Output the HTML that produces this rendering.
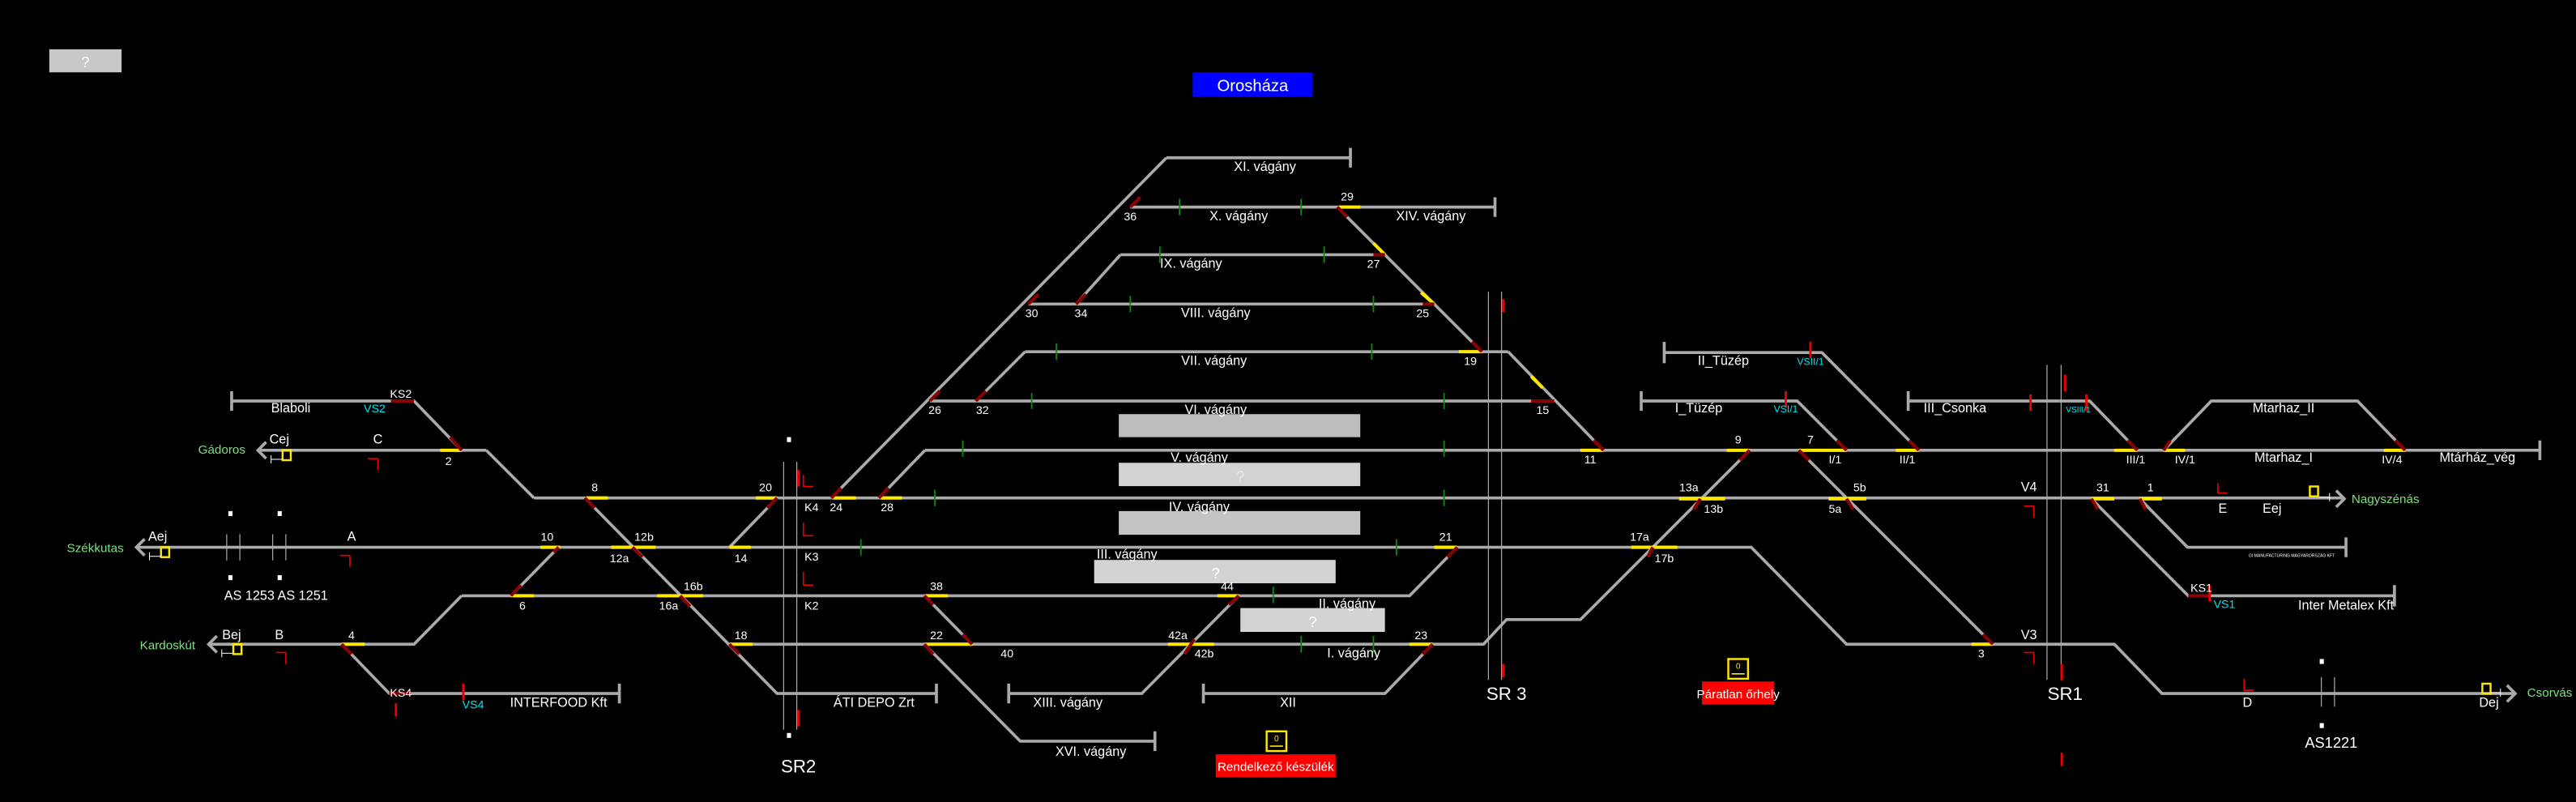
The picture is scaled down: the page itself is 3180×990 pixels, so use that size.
<!DOCTYPE html>
<html><head><meta charset="utf-8"><style>
html,body{margin:0;padding:0;background:#000;}
svg{display:block}
text{font-family:"Liberation Sans",sans-serif;}
.t{fill:#fff;font-size:8px;}
.n{fill:#fff;font-size:7px;font-family:"Liberation Mono",monospace;}
.g{fill:#7ee07e;font-size:7.5px;}
.c{fill:#00e5ee;font-size:7px;}
</style></head><body>
<svg width="3180" height="990" viewBox="0 0 1568 488" preserveAspectRatio="none">
<rect width="1568" height="488" fill="#000"/>
<rect x="30" y="30" width="44" height="14" fill="#c8c8c8"/><text x="52" y="41" font-size="9" fill="#fff" text-anchor="middle">?</text>
<rect x="726" y="44" width="73" height="15" fill="#0000ff"/><text x="762.5" y="55.5" font-size="10" fill="#fff" text-anchor="middle">Orosháza</text>

<g stroke="#aaa" stroke-width="1.8" fill="none">
<path d="M710,96 H822 M822,90 V102"/>
<path d="M506,303 L710,96"/>
<path d="M688,126 H910 M910,120 V132"/>
<path d="M682,155 H843 M655,185 L682,155"/>
<path d="M626,185 H873"/>
<path d="M624,214 H918 M594,244 L624,214"/>
<path d="M566,244 H946"/>
<path d="M814,126 L902,214 M918,214 L976,274"/>
<path d="M563,274 H1546 M1546,268 V280 M535,303 L563,274"/>
<path d="M325,303 H1427 M296,274 L325,303 M157,274 H296"/>
<path d="M141,244 H252 L281,274 M141,238 V250"/>
<path d="M83,333 H1066 L1124,392 H1287 L1316,422 H1531"/>
<path d="M356,303 L473,422 H570 M570,416 V428"/>
<path d="M473,303 L444,333 M340,333 L311,362.5"/>
<path d="M281,362.5 H858 L887,333"/>
<path d="M127,392 H252 L281,362.5"/>
<path d="M208,392 L237,422 H377 M377,416 V428"/>
<path d="M444,392 H903 L917,377 H962 L1065,274"/>
<path d="M562.7,362.5 L591.7,392 M562.7,392 L621,451 H703 M703,445 V457"/>
<path d="M754,362.5 L695,422 H614 M614,416 V428"/>
<path d="M872,392 L843,422 H732.5 M732.5,416 V428"/>
<path d="M1013,214.5 H1109 L1168,274 M1013,208 V221"/>
<path d="M999,244 H1094 L1124,274 M999,238 V250"/>
<path d="M1095,274 L1213,392"/>
<path d="M1161.5,244 H1272 L1301,274 M1161.5,238 V250"/>
<path d="M1317,274 L1346,244 H1435 L1464,274"/>
<path d="M1273,303.5 L1332,362.5 H1457.5 M1457.5,356 V369"/>
<path d="M1302.5,303.5 L1331.5,333 H1428 M1428,327 V339"/>
<path d="M162,269 L157,274 L162,279 M88,328 L83,333 L88,338 M132,387 L127,392 L132,397 M1422,298.5 L1427,303.5 L1422,308.5 M1526,417 L1531,422 L1526,427"/>
</g>
<g stroke="#aaa" stroke-width="0.6">
<path d="M477,281 V444 M485,281 V444 M906,177.5 V413.7 M914,177.5 V413.7 M1246,222 V413.7 M1254.6,222 V413.7"/>
<path d="M138,325 V341 M146,325 V341 M166,325 V341 M174,325 V341 M1413,412 V430 M1421,412 V430"/>
</g>
<g stroke="#ffe800" stroke-width="2">
<path d="M268,274 H281 M357,303 H370 M460,303 H473 M507,303 H521 M536,303 H549 M329,333 H341 M372,333 H399 M444,333 H457 M311,362.5 H325 M400,362.5 H428 M563,362.5 H577 M741,362.5 H754 M208,392 H222 M444,392 H458 M563,392 H592 M711,392 H739 M858,392 H872 M815,126 H828 M888,214 H902 M962,274 H976 M1051,274 H1065 M1095,274 H1124 M1154,274 H1168 M1287,274 H1301 M1317,274 H1330 M1451,274 H1464 M1022,303.5 H1050 M1113,303.5 H1136 M1273,303.5 H1287 M1302.5,303.5 H1316 M993,333 H1021 M873,333 H887 M1200,392 H1213"/>
<path d="M836,148 L843,155 M865,178 L873,185 M932,229 L939,236"/>
</g>
<g stroke="#8b0000" stroke-width="2">
<path d="M238,244 H252 M274,266 L281,274 M356,303 L362,309 M467,309 L473,303 M506,303 L512,297 M535,303 L541,297 M385,333 L391,339 M337,336 L340,333 M311,362.5 L317,356 M414,362.5 L420,369 M444,392 L450,398 M562.7,362.5 L568,368 M586,386 L591.7,392 M562.7,392 L568,398 M748,368 L754,362.5 M721,398 L727,389 M866,398 L872,392 M881,339 L887,333 M208,392 L214,398 M237,422 H250 M566,244 L572,238 M594,244 L600,238 M626,185 L632,179 M655,185 L661,179 M688,126 L694,120 M814,126 L820,132 M836,155 H843 M866,185 H873 M896,208 L902,214 M932,244 H946 M970,268 L976,274 M1059,280 L1065,274 M1095,274 L1101,280 M1118,268 L1124,274 M1162,268 L1168,274 M1035,303.5 L1031,310 M1124,303.5 L1128,310 M1006,333 L1003,339 M1207,386 L1213,392 M1295,268 L1301,274 M1317,274 L1321,268 M1458,268 L1464,274 M1273,303.5 L1277,310 M1302.5,303.5 L1306,310 M1332,362.5 H1345"/>
</g>
<g stroke="#0a8a0a" stroke-width="0.9">
<path d="M718,121 V131 M792,121 V131 M706,150 V160 M806,150 V160 M688,180 V190 M836,180 V190 M643,209 V219 M835,209 V219 M628,239 V249 M879,239 V249 M586,268 V278 M879,268 V278 M569,298 V308 M879,298 V308 M524,328 V338 M850,328 V338 M775,357 V367 M792,387 V397 M836,387 V397"/>
</g>
<rect x="681" y="252" width="147" height="14" fill="#bdbdbd"/>
<rect x="681" y="281.6" width="147" height="14.2" fill="#d3d3d3"/><text x="755" y="293" font-size="9" fill="#e8e8e8" text-anchor="middle">?</text>
<rect x="681" y="311" width="147" height="14.4" fill="#c4c4c4"/>
<rect x="666" y="340.7" width="147" height="14.2" fill="#d3d3d3"/><text x="740" y="352" font-size="9" fill="#fff" text-anchor="middle">?</text>
<rect x="755" y="370" width="88" height="14.5" fill="#d3d3d3"/><text x="799" y="381.5" font-size="9" fill="#fff" text-anchor="middle">?</text>
<g stroke="#ffe800" stroke-width="1.2" fill="none">
<rect x="172" y="274" width="5" height="6"/><rect x="98" y="333" width="5" height="6"/><rect x="142" y="392" width="5" height="6"/><rect x="1406" y="296" width="5" height="6"/><rect x="1511" y="416" width="5" height="6"/>
<rect x="1052" y="401" width="12" height="12"/><rect x="771" y="445" width="12" height="12"/>
</g>
<g stroke="#fff" stroke-width="0.5"><path d="M165,277 V282 M165,279.5 H172 M91,336 V341 M91,338.5 H98 M135,395 V400 M135,397.5 H142 M1418,300 V305 M1411,302.5 H1418 M1522,419 V424 M1516,421.5 H1522"/></g>
<g stroke="#e00" stroke-width="0.8" fill="none">
<path d="M230,279 V286 M224,279 H230 M213,338 V345 M207,338 H213 M174,397 V404 M168,397 H174 M489,289 V296 H495 M489,318 V326 H495 M489,348 V356 H495 M1238,308 V315 M1232,308 H1238 M1238,397 V404 M1232,397 H1238 M1350,294 V300 H1356 M1366,413 V420 H1372"/>
</g>
<g stroke="#e00" stroke-width="1.4"><path d="M486,286 V296 M486,432 V442 M915,182 V190 M915,404 V412 M1255,458 V466 M1255,404 V414 M1257,228 V238 M1270,240 V250 M1236,240 V250 M1087,238 V248 M1102,208 V218 M241,428 V436 M282,416 V426 M1345,356 V366"/></g>
<g fill="#fff"><rect x="479" y="266" width="2.5" height="3"/><rect x="479" y="446" width="2.5" height="3"/><rect x="139" y="311" width="2.5" height="3"/><rect x="169" y="311" width="2.5" height="3"/><rect x="139" y="350" width="2.5" height="3"/><rect x="169" y="350" width="2.5" height="3"/><rect x="1412" y="401" width="2.5" height="3"/><rect x="1412" y="440" width="2.5" height="3"/></g>
<rect x="1036" y="414.7" width="44" height="14" fill="#ff0000"/><text x="1058" y="424.8" font-size="7.5" fill="#fff" text-anchor="middle">Páratlan őrhely</text>
<rect x="740" y="459" width="73" height="14" fill="#ff0000"/><text x="776.5" y="469" font-size="7.5" fill="#fff" text-anchor="middle">Rendelkező készülék</text>
<g class="t" text-anchor="middle">
<text x="770" y="104">XI. vágány</text><text x="754" y="134">X. vágány</text><text x="871" y="134">XIV. vágány</text>
<text x="725" y="163">IX. vágány</text><text x="740" y="193">VIII. vágány</text><text x="739" y="222">VII. vágány</text>
<text x="740" y="252">VI. vágány</text><text x="730" y="281">V. vágány</text><text x="730" y="311">IV. vágány</text>
<text x="686" y="340">III. vágány</text><text x="820" y="370">II. vágány</text><text x="824" y="400">I. vágány</text>
<text x="650" y="430">XIII. vágány</text><text x="784" y="430">XII</text><text x="664" y="460">XVI. vágány</text>
<text x="532" y="430">ÁTI DEPO Zrt</text><text x="340" y="430">INTERFOOD Kft</text><text x="177" y="251">Blaboli</text>
<text x="170" y="270">Cej</text><text x="230" y="270">C</text><text x="96" y="329">Aej</text><text x="214" y="329">A</text>
<text x="168" y="365">AS 1253 AS 1251</text><text x="141" y="389">Bej</text><text x="170" y="389">B</text>
<text x="1049" y="222">II_Tüzép</text><text x="1034" y="251">I_Tüzép</text><text x="1190" y="251">III_Csonka</text>
<text x="1390" y="251">Mtarhaz_II</text><text x="1390" y="281">Mtarhaz_I</text><text x="1508" y="281">Mtárház_vég</text>
<text x="1235" y="299">V4</text><text x="1353" y="312">E</text><text x="1383" y="312">Eej</text>
<text x="1235" y="389">V3</text><text x="1428" y="371">Inter Metalex Kft</text><text x="1368" y="430">D</text><text x="1515" y="430">Dej</text>
<text x="1419" y="455" font-size="9">AS1221</text>
<text x="486" y="470" font-size="11">SR2</text><text x="917" y="426" font-size="11">SR 3</text><text x="1257" y="426" font-size="11">SR1</text>
<text x="494" y="311" font-size="7">K4</text><text x="494" y="341" font-size="7">K3</text><text x="494" y="371" font-size="7">K2</text>
<text x="1395" y="339" font-size="2.5">GI MANUFACTURING MAGYARORSZÁG KFT</text>
</g>
<g class="g" text-anchor="middle"><text x="135" y="276">Gádoros</text><text x="58" y="336">Székkutas</text><text x="102" y="395">Kardoskút</text><text x="1452" y="306">Nagyszénás</text><text x="1552" y="424">Csorvás</text></g>
<g class="c" text-anchor="middle"><text x="228" y="251">VS2</text><text x="288" y="431">VS4</text><text x="1354" y="370">VS1</text><text x="1087" y="251" font-size="6">VSI/1</text><text x="1102" y="222" font-size="6">VSII/1</text><text x="1265" y="251" font-size="5">VSIII/1</text></g>
<g class="n" text-anchor="middle">
<text x="244" y="242">KS2</text><text x="244" y="424">KS4</text><text x="1340" y="360">KS1</text>
<text x="273" y="283">2</text><text x="362" y="299">8</text><text x="333" y="329">10</text><text x="392" y="329">12b</text><text x="377" y="342">12a</text>
<text x="451" y="342">14</text><text x="466" y="299">20</text><text x="318" y="371">6</text><text x="422" y="359">16b</text><text x="407" y="371">16a</text>
<text x="451" y="389">18</text><text x="214" y="389">4</text><text x="509" y="311">24</text><text x="540" y="311">28</text><text x="569" y="252">26</text><text x="598" y="252">32</text>
<text x="628" y="193">30</text><text x="658" y="193">34</text><text x="688" y="134">36</text><text x="820" y="122">29</text><text x="836" y="163">27</text>
<text x="866" y="193">25</text><text x="895" y="222">19</text><text x="939" y="252">15</text><text x="968" y="282">11</text><text x="880" y="329">21</text>
<text x="570" y="359">38</text><text x="747" y="359">44</text><text x="570" y="389">22</text><text x="613" y="400">40</text><text x="717" y="389">42a</text><text x="733" y="400">42b</text><text x="865" y="389">23</text>
<text x="1058" y="270">9</text><text x="1102" y="270">7</text><text x="1117" y="282">I/1</text><text x="1161" y="282">II/1</text>
<text x="1028" y="299">13a</text><text x="1043" y="312">13b</text><text x="1132" y="299">5b</text><text x="1117" y="312">5a</text>
<text x="998" y="329">17a</text><text x="1013" y="342">17b</text><text x="1280" y="299">31</text><text x="1309" y="299">1</text>
<text x="1300" y="282">III/1</text><text x="1330" y="282">IV/1</text><text x="1456" y="282">IV/4</text><text x="1206" y="400">3</text>
</g>
<g fill="#ffe800" font-size="5" text-anchor="middle"><text x="1058" y="407">0</text><text x="777" y="451">0</text></g>
<g stroke="#ffe800" stroke-width="0.8"><path d="M1054,410 H1062 M773,454 H781"/></g>
</svg>
</body></html>
